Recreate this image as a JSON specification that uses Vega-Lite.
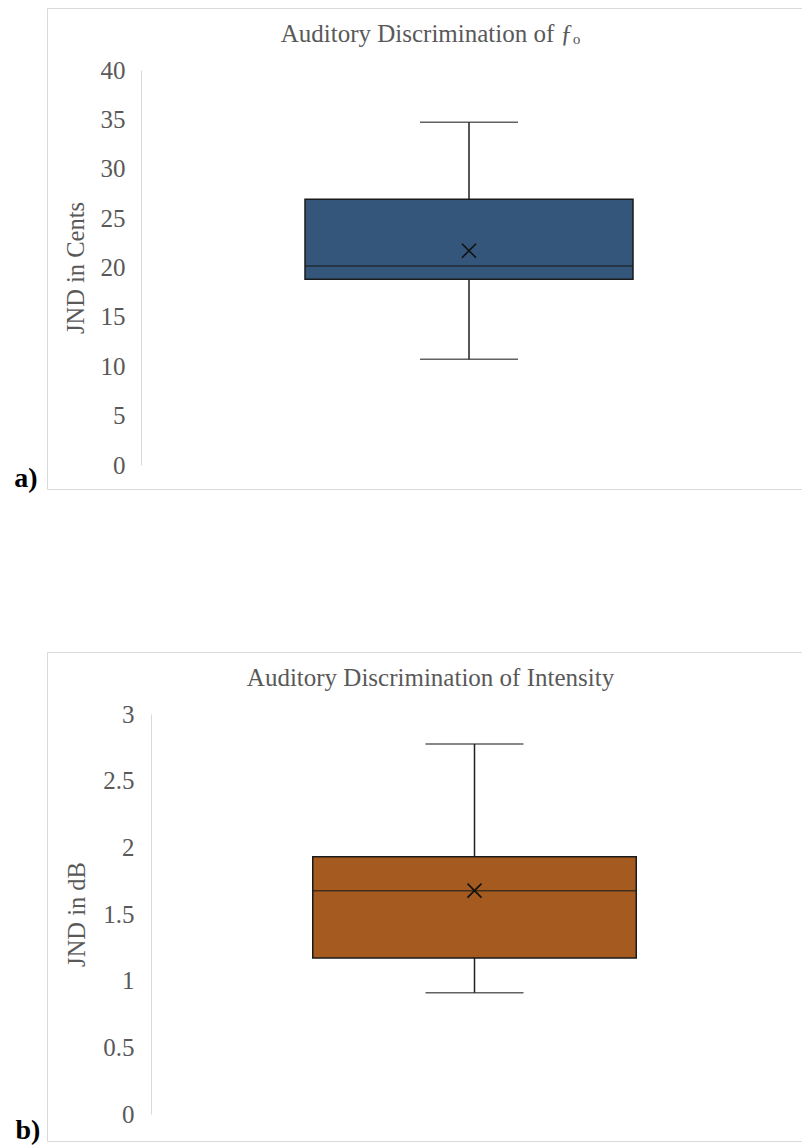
{
  "$schema": "https://vega.github.io/schema/vega-lite/v6.json",
  "padding": {"left": 13, "top": 7, "right": 0, "bottom": 0},
  "background": "white",
  "config": {
    "font": "Liberation Serif",
    "view": {"stroke": "#d9d9d9", "strokeWidth": 1}
  },
  "bounds": "flush",
  "spacing": 163,
  "resolve": {"scale": {"x": "independent", "y": "independent"}},
  "vconcat": [
    {
      "width": 755,
      "height": 481,
      "data": {"values": [{"panel": "a", "min": 10.7, "q1": 18.8, "median": 20.15, "q3": 26.9, "max": 34.7, "mean": 21.7}]},
      "title": {"text": "Auditory Discrimination of ƒₒ", "font": "Liberation Serif", "fontSize": 25, "fontWeight": "normal", "color": "#595959", "anchor": "middle", "frame": "group", "baseline": "alphabetic", "offset": -59, "dx": 6},
      "encoding": {
        "x": {
          "field": "panel", "type": "nominal",
          "scale": {"range": [94, 750], "paddingInner": 0, "paddingOuter": 0.5},
          "axis": {"orient": "bottom", "labels": false, "ticks": false, "domain": false, "grid": false, "title": "a)", "titleFont": "Liberation Serif", "titleFontSize": 28, "titleFontWeight": "bold", "titleColor": "black", "titleAngle": 0, "titleAlign": "center", "titleBaseline": "alphabetic", "titleX": -21.5, "titleY": -3}
        }
      },
      "layer": [
        {
          "mark": {"type": "rule", "color": "#1f1f1f", "strokeWidth": 1.5},
          "encoding": {
            "y": {"field": "min", "type": "quantitative", "scale": {"domain": [0, 40], "range": [457, 62]},
              "axis": {"orient": "left", "offset": -94, "values": [0, 5, 10, 15, 20, 25, 30, 35, 40], "format": "~g", "domain": true, "domainColor": "#d9d9d9", "domainWidth": 1, "ticks": false, "grid": false, "labelFont": "Liberation Serif", "labelFontSize": 25, "labelColor": "#595959", "labelPadding": 16, "title": "JND in Cents", "titleFont": "Liberation Serif", "titleFontSize": 24.5, "titleFontWeight": "normal", "titleColor": "#595959", "titlePadding": 12}},
            "y2": {"field": "max"}
          }
        },
        {
          "mark": {"type": "bar", "fill": "#34567A", "stroke": "#1a1a1a", "strokeWidth": 1.5},
          "encoding": {"y": {"field": "q1", "type": "quantitative"}, "y2": {"field": "q3"}}
        },
        {
          "mark": {"type": "tick", "orient": "horizontal", "size": 328, "thickness": 1.5, "color": "#1a1a1a"},
          "encoding": {"y": {"field": "median", "type": "quantitative"}}
        },
        {
          "mark": {"type": "tick", "orient": "horizontal", "size": 98, "thickness": 1.5, "color": "#1f1f1f"},
          "encoding": {"y": {"field": "min", "type": "quantitative"}}
        },
        {
          "mark": {"type": "tick", "orient": "horizontal", "size": 98, "thickness": 1.5, "color": "#1f1f1f"},
          "encoding": {"y": {"field": "max", "type": "quantitative"}}
        },
        {
          "mark": {"type": "point", "shape": "M-1,-1L1,1M-1,1L1,-1", "size": 196, "filled": false, "stroke": "#111111", "strokeWidth": 1.6, "opacity": 1},
          "encoding": {"y": {"field": "mean", "type": "quantitative"}}
        }
      ]
    },
    {
      "width": 755,
      "height": 489,
      "data": {"values": [{"panel": "b", "min": 0.91, "q1": 1.17, "median": 1.675, "q3": 1.93, "max": 2.775, "mean": 1.675}]},
      "title": {"text": "Auditory Discrimination of Intensity", "font": "Liberation Serif", "fontSize": 25, "fontWeight": "normal", "color": "#595959", "anchor": "middle", "frame": "group", "baseline": "alphabetic", "offset": -59, "dx": 6},
      "encoding": {
        "x": {
          "field": "panel", "type": "nominal",
          "scale": {"range": [104, 751], "paddingInner": 0, "paddingOuter": 0.5},
          "axis": {"orient": "bottom", "labels": false, "ticks": false, "domain": false, "grid": false, "title": "b)", "titleFont": "Liberation Serif", "titleFontSize": 28, "titleFontWeight": "bold", "titleColor": "black", "titleAngle": 0, "titleAlign": "center", "titleBaseline": "alphabetic", "titleX": -19.5, "titleY": -3}
        }
      },
      "layer": [
        {
          "mark": {"type": "rule", "color": "#1f1f1f", "strokeWidth": 1.5},
          "encoding": {
            "y": {"field": "min", "type": "quantitative", "scale": {"domain": [0, 3], "range": [462, 62]},
              "axis": {"orient": "left", "offset": -104, "values": [0, 0.5, 1, 1.5, 2, 2.5, 3], "format": "~g", "domain": true, "domainColor": "#d9d9d9", "domainWidth": 1, "ticks": false, "grid": false, "labelFont": "Liberation Serif", "labelFontSize": 25, "labelColor": "#595959", "labelPadding": 17, "title": "JND in dB", "titleFont": "Liberation Serif", "titleFontSize": 24.5, "titleFontWeight": "normal", "titleColor": "#595959", "titlePadding": 13}},
            "y2": {"field": "max"}
          }
        },
        {
          "mark": {"type": "bar", "fill": "#A55B1F", "stroke": "#1a1a1a", "strokeWidth": 1.5},
          "encoding": {"y": {"field": "q1", "type": "quantitative"}, "y2": {"field": "q3"}}
        },
        {
          "mark": {"type": "tick", "orient": "horizontal", "size": 323, "thickness": 1.5, "color": "#1a1a1a"},
          "encoding": {"y": {"field": "median", "type": "quantitative"}}
        },
        {
          "mark": {"type": "tick", "orient": "horizontal", "size": 98, "thickness": 1.5, "color": "#1f1f1f"},
          "encoding": {"y": {"field": "min", "type": "quantitative"}}
        },
        {
          "mark": {"type": "tick", "orient": "horizontal", "size": 98, "thickness": 1.5, "color": "#1f1f1f"},
          "encoding": {"y": {"field": "max", "type": "quantitative"}}
        },
        {
          "mark": {"type": "point", "shape": "M-1,-1L1,1M-1,1L1,-1", "size": 196, "filled": false, "stroke": "#111111", "strokeWidth": 1.6, "opacity": 1},
          "encoding": {"y": {"field": "mean", "type": "quantitative"}}
        }
      ]
    }
  ]
}
